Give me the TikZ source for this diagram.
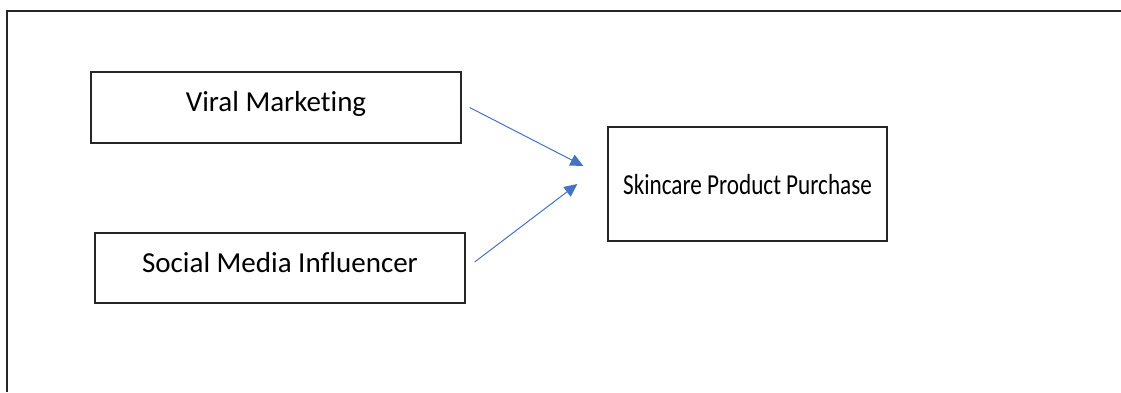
\documentclass[tikz,border=0pt]{standalone}
\usepackage{fontspec}
\setmainfont{Carlito}[Ligatures=NoCommon]
\usetikzlibrary{arrows.meta}
\definecolor{arrowblue}{HTML}{4472C4}
\tikzset{
    factorbox/.style={draw=black!85,line width=1.3pt,inner xsep=0pt,inner ysep=0pt,font=\fontsize{29}{33}\selectfont},
    linkarrow/.style={draw=arrowblue,line width=1pt,-{Triangle[length=13pt,width=12pt]}}
}
\begin{document}
\begin{tikzpicture}[x=1pt,y=-1pt]
        % Fix picture size
        \useasboundingbox (0,0) rectangle (1121,392);
        % Draw page frame
        \draw[line width=2pt,black!85] (7,392) -- (7,11) -- (1121,11);
        % Draw the two factors
        \node[factorbox,minimum width=370pt,text height=39pt,text depth=32pt] (viral) at (276,107.5) {Viral Marketing};
        \node[factorbox,minimum width=370pt,text height=39pt,text depth=31pt] (influencer) at (280,268) {Social Media Influencer};
        % Draw the outcome
        \node[factorbox,minimum width=279pt,text height=67pt,text depth=47pt] (purchase) at (747.5,184) {\scalebox{0.8}[1]{Skincare Product Purchase}};
        % Arrow ends
        \coordinate (viralout) at ([xshift=8pt]viral.east);
        \coordinate (influencerout) at ([xshift=9pt,yshift=6pt]influencer.east);
        \coordinate (purchasein1) at ([xshift=-24pt,yshift=18pt]purchase.west);
        \coordinate (purchasein2) at ([xshift=-30pt]purchase.west);
        % Draw arrows
        \draw[linkarrow] (viralout) -- (purchasein1);
        \draw[linkarrow] (influencerout) -- (purchasein2);
    \end{tikzpicture}
\end{document}
